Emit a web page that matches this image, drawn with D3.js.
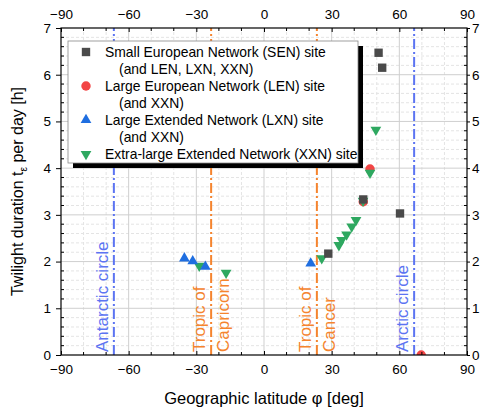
<!DOCTYPE html>
<html>
<head>
<meta charset="utf-8">
<script src="https://cdn.jsdelivr.net/npm/d3@7"></script>
<style>
  body { margin: 0; background: #fff; }
  text { font-family: "Liberation Sans", Arial, sans-serif; }
</style>
</head>
<body>
<div id="chart"></div>
<script>
// chart size and plot margins
const width = 480;
const height = 413;
const margin = {left: 61, right: 13, top: 28, bottom: 58};

// data (latitude in deg, twilight in hours)
const senLat = [50.8, 52.4, 44.0, 60.3, 28.5];
const senHrs = [6.47, 6.15, 3.33, 3.03, 2.17];
const lenLat = [47.0, 44.0, 69.7];
const lenHrs = [3.98, 3.28, 0.0];
const lxnLat = [-35.3, -31.6, -26.0, 20.7];
const lxnHrs = [2.07, 2.01, 1.89, 1.96];
const xxnLat = [-28.7, -16.8, 25.6, 33.2, 34.4, 36.6, 38.9, 40.8, 43.9, 47.0, 49.6];
const xxnHrs = [1.91, 1.76, 2.07, 2.35, 2.46, 2.58, 2.75, 2.89, 3.30, 3.90, 4.82];

const xTicks = [-90, -60, -30, 0, 30, 60, 90];
const yTicks = [0, 1, 2, 3, 4, 5, 6, 7];

// reference latitudes
const refLines = [
  {lat: -66.56, color: "#5c74f2", labels: ["Antarctic circle"]},
  {lat: -23.44, color: "#f5842e", labels: ["Tropic of", "Capricorn"]},
  {lat: 23.44, color: "#f5842e", labels: ["Tropic of", "Cancer"]},
  {lat: 66.56, color: "#5c74f2", labels: ["Arctic circle"]}
];

const legendRows = [
  {key: "sen", lines: ["Small European Network (SEN) site", "(and LEN, LXN, XXN)"]},
  {key: "len", lines: ["Large European Network (LEN) site", "(and XXN)"]},
  {key: "lxn", lines: ["Large Extended Network (LXN) site", "(and XXN)"]},
  {key: "xxn", lines: ["Extra-large Extended Network (XXN) site"]}
];

const styles = {
  sen: {color: "#4a4a4a", shape: d3.symbolSquare, size: 70, rot: 0},
  len: {color: "#f24545", shape: d3.symbolCircle, size: 70, rot: 0},
  lxn: {color: "#1f6ee0", shape: d3.symbolTriangle, size: 50, rot: 0},
  xxn: {color: "#2ea860", shape: d3.symbolTriangle, size: 50, rot: 180}
};

const svg = d3.select("#chart")
  .append("svg")
  .attr("width", width)
  .attr("height", height);

const x = d3.scaleLinear().domain([-90, 90]).range([margin.left, width - margin.right]);
const y = d3.scaleLinear().domain([0, 7]).range([height - margin.bottom, margin.top]);

const x0 = margin.left, x1 = width - margin.right;
const y0 = height - margin.bottom, y1 = margin.top;

// grid: minor dashed, major solid
const minorX = d3.range(-80, 90, 10).filter(v => v % 30 !== 0);
const minorY = d3.range(0.2, 7, 0.2).map(v => +v.toFixed(1)).filter(v => Math.abs(v - Math.round(v)) > 0.01);

const grid = svg.append("g");
grid.selectAll(".mx").data(minorX).enter().append("line")
  .attr("x1", d => x(d)).attr("x2", d => x(d)).attr("y1", y0).attr("y2", y1)
  .attr("stroke", "#e4e4e4").attr("stroke-dasharray", "3,2");
grid.selectAll(".my").data(minorY).enter().append("line")
  .attr("x1", x0).attr("x2", x1).attr("y1", d => y(d)).attr("y2", d => y(d))
  .attr("stroke", "#e4e4e4").attr("stroke-dasharray", "3,2");
grid.selectAll(".gx").data(xTicks.slice(1, -1)).enter().append("line")
  .attr("x1", d => x(d)).attr("x2", d => x(d)).attr("y1", y0).attr("y2", y1)
  .attr("stroke", "#cfcfcf");
grid.selectAll(".gy").data(yTicks.slice(1, -1)).enter().append("line")
  .attr("x1", x0).attr("x2", x1).attr("y1", d => y(d)).attr("y2", d => y(d))
  .attr("stroke", "#cfcfcf");

// reference lines and their labels
refLines.forEach(r => {
  const px = x(r.lat);
  svg.append("line")
    .attr("x1", px).attr("x2", px).attr("y1", y0).attr("y2", y1)
    .attr("stroke", r.color).attr("stroke-width", 2)
    .attr("stroke-dasharray", "10,3,2,3");
  r.labels.forEach((t, i) => {
    const off = r.labels.length === 1 ? -6 : (i === 0 ? -6 : 18);
    svg.append("text")
      .attr("transform", `translate(${px + off},${y0 - 3}) rotate(-90)`)
      .attr("font-size", "17px")
      .attr("fill", r.color)
      .text(t);
  });
});

// clip markers to the plot area
svg.append("clipPath").attr("id", "plotclip")
  .append("rect").attr("x", x0).attr("y", y1).attr("width", x1 - x0).attr("height", y0 - y1);

const marks = svg.append("g").attr("clip-path", "url(#plotclip)");

function drawSeries(lat, hrs, st) {
  const pts = lat.map((d, i) => ({lat: d, h: hrs[i]}));
  marks.selectAll(null).data(pts).enter().append("path")
    .attr("d", d3.symbol().type(st.shape).size(st.size))
    .attr("transform", d => `translate(${x(d.lat)},${y(d.h)}) rotate(${st.rot})`)
    .attr("fill", st.color);
}
drawSeries(lenLat, lenHrs, styles.len);
drawSeries(xxnLat, xxnHrs, styles.xxn);
drawSeries(lxnLat, lxnHrs, styles.lxn);
drawSeries(senLat, senHrs, styles.sen);

// axes: bottom, left, top, right
function styleAxis(g) {
  g.selectAll("text").attr("font-size", "13.5px").attr("fill", "#000")
    .attr("font-family", "Liberation Sans, Arial, sans-serif");
  g.select(".domain").remove();
}

const axBottom = svg.append("g").attr("transform", `translate(0,${y0})`)
  .call(d3.axisBottom(x).tickValues(xTicks).tickSizeInner(-4).tickSizeOuter(0).tickPadding(9));
styleAxis(axBottom);
const axTop = svg.append("g").attr("transform", `translate(0,${y1})`)
  .call(d3.axisTop(x).tickValues(xTicks).tickSizeInner(-4).tickSizeOuter(0).tickPadding(9));
styleAxis(axTop);
const axLeft = svg.append("g").attr("transform", `translate(${x0},0)`)
  .call(d3.axisLeft(y).tickValues(yTicks).tickFormat(d3.format("d")).tickSize(5).tickPadding(5));
styleAxis(axLeft);
const axRight = svg.append("g").attr("transform", `translate(${x1},0)`)
  .call(d3.axisRight(y).tickValues(yTicks).tickFormat(d3.format("d")).tickSize(3).tickPadding(2));
styleAxis(axRight);

// minor ticks pointing into the plot
svg.append("g").selectAll("line").data(minorX).enter().append("line")
  .attr("x1", d => x(d)).attr("x2", d => x(d)).attr("y1", y0).attr("y2", y0 - 3).attr("stroke", "#000");
svg.append("g").selectAll("line").data(minorX).enter().append("line")
  .attr("x1", d => x(d)).attr("x2", d => x(d)).attr("y1", y1).attr("y2", y1 + 3).attr("stroke", "#000");
svg.append("g").selectAll("line").data(minorY).enter().append("line")
  .attr("x1", x0).attr("x2", x0 + 3).attr("y1", d => y(d)).attr("y2", d => y(d)).attr("stroke", "#000");
svg.append("g").selectAll("line").data(minorY).enter().append("line")
  .attr("x1", x1).attr("x2", x1 - 3).attr("y1", d => y(d)).attr("y2", d => y(d)).attr("stroke", "#000");

// frame
svg.append("rect")
  .attr("x", x0).attr("y", y1).attr("width", x1 - x0).attr("height", y0 - y1)
  .attr("fill", "none").attr("stroke", "#000").attr("stroke-width", 1.2);

// legend with drop shadow
const lg = {x: 68, y: 41, w: 290, h: 122};
svg.append("rect").attr("x", lg.x + 5).attr("y", lg.y + 5).attr("width", lg.w).attr("height", lg.h).attr("fill", "#000");
svg.append("rect").attr("x", lg.x).attr("y", lg.y).attr("width", lg.w).attr("height", lg.h)
  .attr("fill", "#fff").attr("stroke", "#888").attr("stroke-width", 0.8);

let ly = lg.y + 11;
legendRows.forEach(row => {
  const st = styles[row.key];
  svg.append("path")
    .attr("d", d3.symbol().type(st.shape).size(st.size))
    .attr("transform", `translate(${lg.x + 18},${ly}) rotate(${st.rot})`)
    .attr("fill", st.color);
  row.lines.forEach((t, i) => {
    svg.append("text")
      .attr("x", lg.x + (i === 0 ? 37 : 51))
      .attr("y", ly + i * 17)
      .attr("dy", "0.35em")
      .attr("font-size", "13.9px")
      .text(t);
  });
  ly += row.lines.length * 17;
});

// axis titles
svg.append("text")
  .attr("x", (x0 + x1) / 2).attr("y", 404)
  .attr("text-anchor", "middle").attr("font-size", "16.5px")
  .text("Geographic latitude \u03c6 [deg]");

const yt = svg.append("text")
  .attr("transform", `translate(23,${(y0 + y1) / 2}) rotate(-90)`)
  .attr("text-anchor", "middle").attr("font-size", "16px");
yt.append("tspan").text("Twilight duration t");
yt.append("tspan").attr("font-size", "10px").attr("dy", 4).text("\u03b5");
yt.append("tspan").attr("dy", -4).text(" per day [h]");
</script>
</body>
</html>
